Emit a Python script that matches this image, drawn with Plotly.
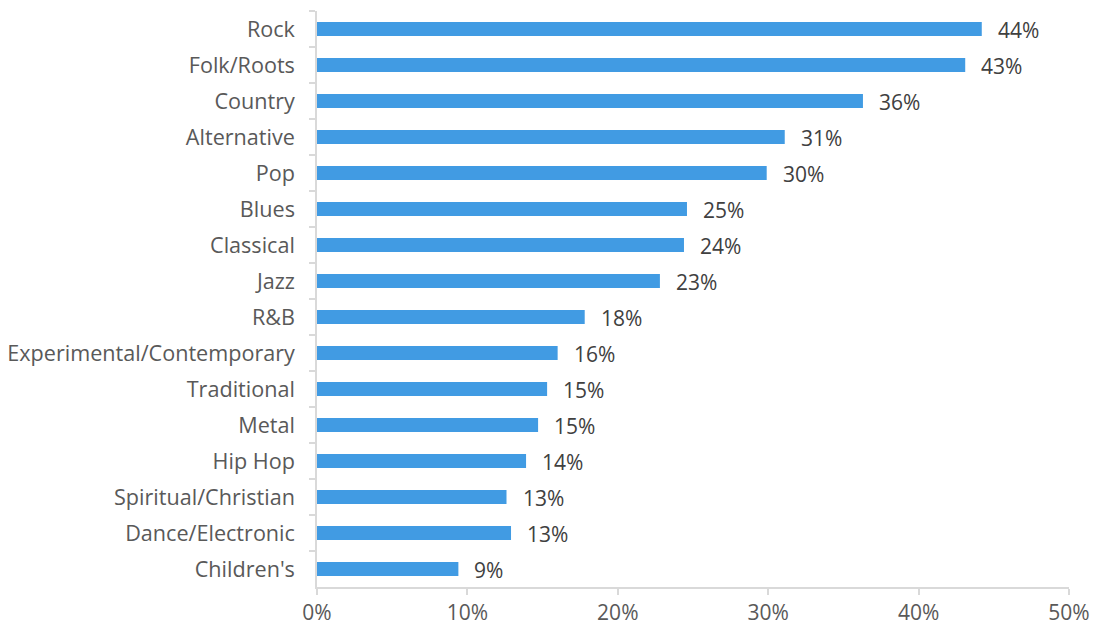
import plotly.graph_objects as go

# Share of respondents by genre (%)
genres = [
    "Rock", "Folk/Roots", "Country", "Alternative", "Pop", "Blues",
    "Classical", "Jazz", "R&B", "Experimental/Contemporary", "Traditional",
    "Metal", "Hip Hop", "Spiritual/Christian", "Dance/Electronic", "Children's",
]
shares = [
    44.2, 43.1, 36.3, 31.1, 29.9, 24.6,
    24.4, 22.8, 17.8, 16.0, 15.3,
    14.7, 13.9, 12.6, 12.9, 9.4,
]
x_ticks = [0, 10, 20, 30, 40, 50]

BAR = "#419be3"
AXIS = "#d9d9d9"
LABEL = "#595959"
VALUE = "#404040"
FONT = "Open Sans"
SIZE = 21

fig = go.Figure(
    go.Bar(
        x=shares,
        y=genres,
        orientation="h",
        marker=dict(color=BAR, line=dict(width=0)),
        hoverinfo="skip",
    )
)

# value labels to the right of each bar
for g, v in zip(genres, shares):
    fig.add_annotation(
        x=v, y=g, text=f"{round(v):.0f}%", showarrow=False,
        xanchor="left", yanchor="middle", xshift=14, yshift=-1,
        font=dict(family=FONT, size=SIZE, color=VALUE),
    )

fig.update_layout(
    width=1095, height=624,
    margin=dict(l=317, r=26, t=11, b=37, pad=0),
    paper_bgcolor="white", plot_bgcolor="white",
    bargap=0.61,
    showlegend=False,
    font=dict(family=FONT, size=SIZE, color=LABEL),
)
fig.update_xaxes(
    range=[0, 50], tickvals=x_ticks, ticktext=[f"{t}%" for t in x_ticks],
    showgrid=False, zeroline=False, automargin=False,
    showline=True, linecolor=AXIS, linewidth=1.5,
    ticks="outside", ticklen=6, tickcolor=AXIS, tickwidth=1.5,
    tickfont=dict(family=FONT, size=SIZE, color=LABEL),
)
fig.update_yaxes(
    categoryorder="array", categoryarray=genres, autorange="reversed",
    showgrid=False, zeroline=False, automargin=False,
    showline=True, linecolor=AXIS, linewidth=1.5,
    ticks="outside", ticklen=6, tickcolor=AXIS, tickwidth=1.5,
    tickson="boundaries", ticklabelstandoff=16,
    tickfont=dict(family=FONT, size=21.6, color=LABEL),
)

fig.write_html("out.html")
